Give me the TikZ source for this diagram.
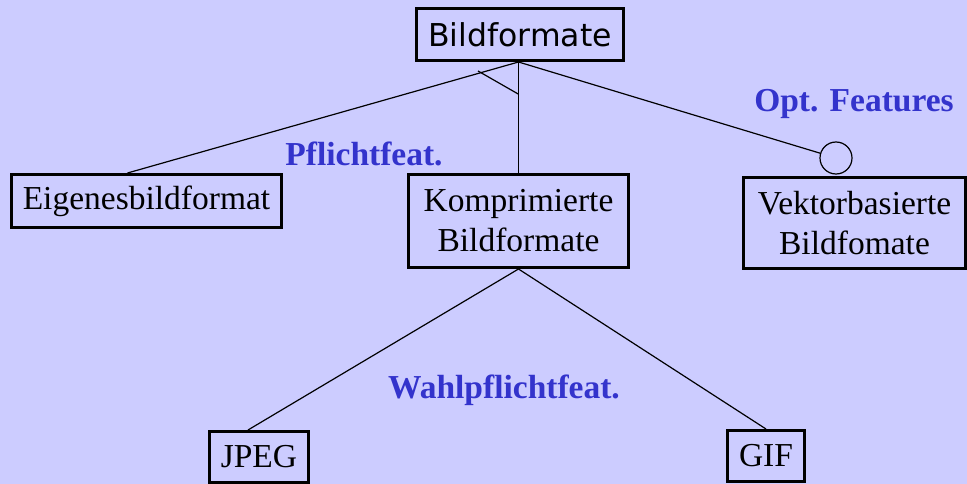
\documentclass[tikz,border=0pt]{standalone}
\usepackage{fontspec}
\setmainfont{Liberation Serif}
\newfontfamily\gothic{DejaVu Sans}
\usetikzlibrary{calc}
\definecolor{paper}{HTML}{CCCCFF}
\definecolor{tagblue}{HTML}{3333CC}
\begin{document}
\begin{tikzpicture}[x=1pt,y=-1pt,
  featbox/.style={draw=black,line width=3pt,inner sep=0pt,align=center,
    font=\fontsize{33.5}{40}\selectfont},
  link/.style={draw=black,line width=1.2pt},
  tag/.style={text=tagblue,inner sep=0pt,font=\bfseries\fontsize{33.5}{40}\selectfont},
  optmark/.style={circle,draw=black,line width=1.2pt,minimum size=32pt,inner sep=0pt}]
\fill[paper] (0,0) rectangle (967,484);
\useasboundingbox (0,0) rectangle (967,484);

% feature boxes
\node[featbox,minimum width=207pt,minimum height=52pt,font=\gothic\fontsize{31.5}{38}\selectfont]
  (bf) at (520,34.5) {Bildformate};
\node[featbox,minimum width=270pt,minimum height=53pt] (eb) at (146.5,201) {Eigenesbildformat};
\node[featbox,minimum width=220pt,minimum height=93pt] (kb) at (518.5,221) {Komprimierte\\Bildformate};
\node[featbox,minimum width=222pt,minimum height=91pt] (vb) at (854.5,223) {Vektorbasierte\\Bildfomate};
\node[featbox,minimum width=99pt,minimum height=51pt] (jp) at (259,457) {JPEG};
\node[featbox,minimum width=77pt,minimum height=51pt] (gf) at (766,456) {GIF};

% optional marker
\node[optmark] (oc) at (836,158) {};

% connectors
\coordinate (hub) at (kb.north |- bf.south);
\coordinate (ebtop) at ([xshift=-19pt]eb.north);
\coordinate (jptop) at ([xshift=-11pt]jp.north);
\draw[link] (hub) -- (ebtop);
\draw[link] (hub) -- (kb.north);
\draw[link] (hub) -- (oc);
\coordinate (m1) at (478,71);
\coordinate (m2) at ($(hub)!0.29!(kb.north)$);
\draw[link] (m1) -- (m2);
\draw[link] (kb.south) -- (jptop);
\draw[link] (kb.south) -- (gf.north);

% labels
\node[tag] (lp) at (364,154) {Pflichtfeat.};
\node[tag] (lo) at (854,104) {Opt. Features};
\node[tag] (lw) at (504,390) {Wahlpflichtfeat.};
\end{tikzpicture}
\end{document}
